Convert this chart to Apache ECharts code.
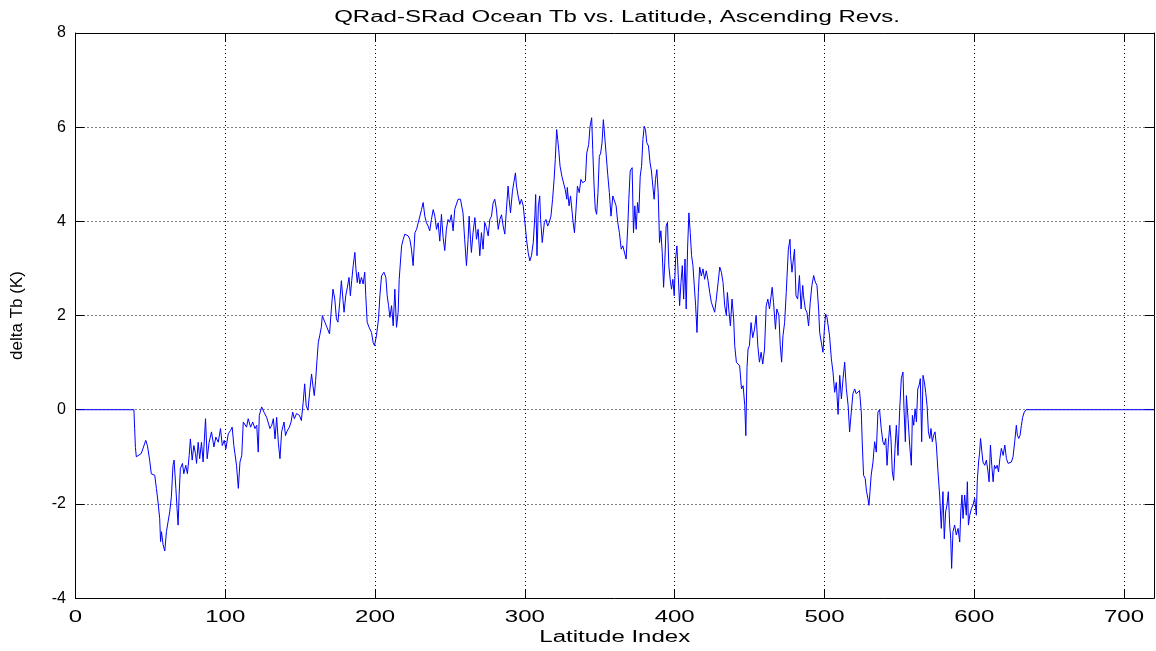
<!DOCTYPE html>
<html>
<head>
<meta charset="utf-8">
<script src="https://cdn.jsdelivr.net/npm/echarts@6/dist/echarts.min.js"></script>
<style>html,body{margin:0;padding:0;background:#fff}#chart{width:1156px;height:651px}</style>
</head>
<body>
<div id="chart"></div>
<script>
// Chart texts
const titleText = 'QRad-SRad Ocean Tb vs. Latitude, Ascending Revs.';
const xName = 'Latitude Index';
const yName = 'delta Tb (K)';
// Axis ranges / ticks
const xMin = 0, xMax = 720, xStep = 100;
const yMin = -4, yMax = 8, yStep = 2;

// [latitude index, delta Tb] samples
const flatStart = [[1,0],[39,0]];
const segA = [[39.5,-0.4],[40,-0.8],[40.6,-1.0],[41.7,-1.0],[43.9,-0.93],[46.9,-0.65],[48,-0.76],[49.5,-1.07],[50.6,-1.36],[52.9,-1.39],[54,-1.67],[55.1,-1.96],[56.2,-2.31],[56.8,-2.8],[57.4,-2.59],[58.5,-2.87],[59.6,-3.0],[60.7,-2.59],[61.8,-2.38],[62.9,-2.17],[64,-1.85],[65.1,-1.18],[65.8,-1.07],[67,-1.67],[67.8,-2.1],[68.5,-2.45],[69.2,-1.8],[70,-1.25],[71.4,-1.14],[72.3,-1.36],[73.6,-1.18],[74.7,-1.36],[75.9,-0.97],[76.7,-0.62],[77.9,-1.07],[79,-0.76],[80.1,-0.93],[80.8,-1.14],[81.9,-0.69],[82.9,-1.04],[84.1,-0.69],[85.2,-1.11],[86.8,-0.19],[87.9,-1.04],[89.2,-0.69],[90.8,-0.47],[92.4,-0.79],[93.7,-0.58],[95.3,-0.69],[96.8,-0.4],[98,-0.76],[99.3,-0.65],[100.4,-0.83],[102,-0.51],[103.5,-0.44],[104.6,-0.37],[105.7,-0.76],[107.5,-1.18],[108.7,-1.67],[109.8,-1.11],[111,-0.97],[112,-0.26],[113.1,-0.23],[114.2,-0.37],[115.3,-0.19],[116.9,-0.37],[118.3,-0.26],[119.8,-0.4],[121,-0.33],[122,-0.9],[122.7,-0.12],[124.3,0.06],[125.8,-0.05],[127.6,-0.16],[129.8,-0.4],[131,-0.33],[132.1,-0.19],[133.2,-0.62],[134.3,-0.16],[135.4,-0.69],[136.5,-1.04],[137.6,-0.47],[139.2,-0.26],[140.2,-0.55],[141,-0.47],[142.8,-0.37]];
const segB = [[143.9,-0.26],[145,-0.05],[146.1,-0.19],[147.6,-0.08],[149.5,-0.12],[150.8,-0.23],[152,0.16],[153,0.55],[154,0.09],[155.2,-0.01],[156.3,0.37],[157.6,0.76],[158.5,0.51],[159.4,0.3],[160.3,0.62],[161.2,1.04],[162.1,1.43],[163,1.57],[164.1,1.75],[164.8,2.0],[165.6,1.93],[167,1.82],[168.1,1.78],[169.6,1.61],[170.8,2.14],[171.9,2.56],[173.1,2.35],[174.2,1.93],[175.2,1.86],[176.4,2.28],[177.5,2.74],[178.6,2.32],[179.3,2.07],[180.4,2.42],[181.5,2.6],[182.6,2.81],[183.5,2.42],[184.4,2.74],[185.4,3.06],[186.5,3.34],[187.2,2.99],[188.1,2.7],[188.9,2.92],[189.8,2.67],[190.9,2.81],[192,2.67],[193.1,2.92],[193.8,2.42],[194.7,1.86],[196,1.75],[197.6,1.64],[198.7,1.43],[199.6,1.36],[200.9,1.57],[202.3,1.93],[203.2,2.42],[204.3,2.84],[205.9,2.92],[207.2,2.81],[208.1,2.42],[209,2.21],[209.9,1.96],[211,2.21],[212.1,1.78],[213.2,2.56],[214.3,1.75],[215.4,2.07],[216.1,2.77],[217.7,3.48],[218.8,3.62],[219.9,3.73],[221,3.76],[222.1,3.69],[223.2,3.62],[224.3,3.41],[225.4,3.06],[226.6,3.76],[227.7,3.83],[228.8,3.97],[229.9,4.0],[231,4.25],[232.1,4.4],[233.2,4.11],[234.3,3.97],[235.4,3.9],[236.5,3.8],[237.6,4.04],[238.8,4.25],[239.9,4.11],[241,3.83],[242.1,3.97],[243.2,3.58],[244.3,4.15],[245.4,3.66],[246.5,3.38],[247.6,3.83],[248.7,4.04]];
const segC = [[249.8,3.98],[250.9,4.14],[252.1,3.8],[253.2,4.26],[254.3,4.26],[255.4,4.47],[257,4.47],[257.6,4.5],[258.7,4.18],[259.8,3.62],[261,3.06],[262.1,3.62],[262.8,4.11],[263.7,3.62],[264.3,3.34],[265.4,3.76],[266.6,4.08],[267.7,3.62],[268.8,3.83],[269.9,3.27],[271,3.76],[272.1,3.41],[273.2,3.98],[274.3,3.87],[275.5,3.69],[276.6,4.04],[277.7,4.11],[278.8,4.39],[279.9,4.47],[281,4.26],[282.2,3.83],[283.3,4.04],[284.4,4.14],[285.5,3.9],[286.6,3.73],[287.7,4.26],[288.8,4.75],[289.5,4.47],[290.4,4.18],[291.7,4.64],[292.6,4.82],[293.7,5.03],[294.4,4.75],[295.5,4.54],[296.6,4.36],[297.7,4.47],[298.9,4.33],[300,3.98],[301.1,3.62],[302.2,3.34],[303.3,3.16],[304.4,3.27],[305.6,3.55],[306.7,4.14],[307.2,4.57],[308.1,3.27],[309,4.33],[309.9,4.54],[310.5,4.04],[311.6,3.55],[313,3.98],[314.1,4.04],[315.2,3.9],[316.3,3.98],[317.4,4.11],[318.5,4.47],[319.5,4.89],[320.3,5.31],[321.2,5.95],[321.9,5.74],[322.6,5.52],[323.5,5.17],[324.7,4.96],[325.8,4.93],[326.9,4.68],[328,4.47],[328.3,4.72],[329.5,4.33],[330.5,4.54],[331.6,4.18],[332.2,3.98],[333.1,3.76],[334,4.18],[335.1,4.75],[336.3,4.61]];
const segD = [[337.4,4.89],[338.6,4.82],[340.4,4.86],[341.3,5.45],[342.6,5.63],[343.5,6.02],[344.6,6.2],[345.3,5.53],[346.2,4.75],[347,4.26],[347.9,4.15],[348.8,4.61],[349.7,5.38],[350.6,5.45],[351.5,5.67],[352.4,6.16],[353.3,6.16],[354.2,5.45],[355.3,5.0],[356.4,4.61],[357.5,4.11],[358.7,4.54],[359.8,4.57],[360.9,4.33],[362,3.98],[363.1,3.76],[364.3,3.41],[365.4,3.48],[366.5,3.44],[367.6,3.2],[368.7,3.9],[369.4,4.47],[370.3,5.07],[371.6,5.14],[372.5,3.76],[373.4,4.33],[374.3,3.83],[375.2,4.4],[376.1,4.18],[377,4.96],[377.9,5.17],[378.8,5.74],[379.7,6.02],[380.5,5.95],[381.4,5.67],[382.5,5.6],[383.6,5.24],[384.5,5.07],[385.4,4.75],[386.3,4.47],[387.2,4.89],[388.1,5.1],[389,4.61],[389.9,3.55],[390.8,3.8],[391.7,3.34],[392.6,2.6],[393.4,3.13],[394.3,3.9],[395.2,3.98],[396.1,3.06],[397,2.77],[397.9,2.56],[398.8,2.77],[399.7,2.42],[400.6,3.2],[401.5,3.48],[402.4,2.84],[403.3,2.21],[404.2,2.7],[405.1,3.06],[406,2.35],[406.9,3.2],[407.7,2.14],[408.6,3.41],[409.5,4.18],[410.4,3.76],[411.3,3.27],[412.2,3.06],[413.1,2.63],[414,2.21],[414.9,1.64],[415.8,2.49],[416.7,3.03],[417.8,2.84],[418.9,2.99],[420,2.77],[421.1,2.95],[422.3,2.74],[423.4,2.49],[424.5,2.28],[425.6,2.31],[426.7,2.07],[427.8,2.35],[429,2.7],[430.1,3.03],[431.2,2.92],[432.3,2.7],[433.4,2.21],[434.5,2.0],[435.2,2.49],[436.1,2.14],[437.2,1.78],[438.3,2.35],[439.4,1.93],[440.1,1.36],[441.2,1.01],[442.3,1.04],[443.4,0.93],[444.6,0.44],[445.7,0.51],[446.8,0.09],[447.5,-0.55]];
const segE = [[448.3,0.9],[449,1.29],[449.9,1.36],[451,1.85],[452.1,1.53],[453.3,1.71],[454.4,2.0],[455.5,1.36],[456.6,1.01],[457.7,1.22],[458.8,0.97],[460,1.29],[461.1,2.21],[462.2,2.35],[463.3,2.14],[465.1,2.6],[466,2.28],[467.3,1.71],[468.2,2.14],[469.6,2.0],[470.5,1.36],[471.4,1.01],[472.3,1.57],[473.4,1.85],[474.5,2.49],[475.9,3.41],[477,3.62],[477.4,3.27],[478.3,2.92],[480,3.41],[481,2.42],[482.1,2.35],[483.3,2.85],[484.4,2.14],[485.5,2.64],[486,2.42],[487.2,2.14],[488.3,2.07],[489.4,1.78],[490.5,2.28],[491.6,2.64],[492.8,2.85],[493.9,2.71],[495,2.64],[496.1,2.14],[496.8,1.64],[497.9,1.68],[499,1.22],[500.1,1.78],[500.8,2.03],[501.7,1.96],[502.5,2.0],[503.4,1.57],[504.6,1.08],[505.7,0.8],[506.8,0.37],[507.9,0.58],[509.1,-0.1],[510.2,0.73],[511.3,0.23],[512.4,0.66],[513.5,1.01],[514.6,0.45],[515.8,0.09],[516.8,-0.47],[517.9,-0.05],[519,0.34],[520.2,0.44],[521.2,0.34],[522.4,0.37],[523.4,0.41],[524.6,-0.05],[525.2,-0.68],[526.1,-1.39],[527.2,-1.46],[528.1,-1.74],[529,-1.88],[529.7,-2.03],[530.4,-1.74],[531.2,-1.39],[532.4,-1.11],[533.5,-0.68],[534.6,-0.9],[535.7,-0.05],[536.8,0],[537.9,-0.4],[539,-0.68]];
const segF = [[540,-0.75],[540.9,-0.61],[541.8,-1.18],[542.7,-0.68],[543.6,-0.33],[544.4,-0.61],[545.3,-1.32],[546.2,-1.5],[547.1,-0.82],[548,-0.33],[549.1,-0.97],[550.2,-0.01],[551.3,0.66],[552.4,0.8],[553.1,0.02],[554,-0.68],[554.7,0.3],[555.8,-0.19],[556.9,-0.75],[558,-1.18],[558.7,-0.12],[559.6,-0.33],[560.5,0.02],[561.4,-0.26],[562.3,0.44],[563.2,0.52],[564,0.66],[564.9,-0.68],[565.8,0.73],[566.7,0.59],[567.6,0.37],[568.5,0.09],[569.4,-0.47],[570.3,-0.61],[571.1,-0.4],[572,-0.68],[572.9,-0.54],[573.8,-0.47],[574.7,-0.75],[575.8,-1.32],[576.9,-1.81],[578,-2.52],[578.7,-2.02],[579.1,-1.74],[580,-2.74],[580.9,-2.17],[581.8,-2.02],[582.7,-1.74],[583.6,-2.45],[584.3,-2.74],[584.9,-3.37],[585.8,-2.59],[586.9,-2.45],[588,-2.66],[589.2,-2.52],[590.3,-2.81],[591,-2.17],[591.8,-1.81],[592.5,-2.31],[593.6,-1.81],[594.7,-2.24],[595.4,-1.53],[596.1,-2.45],[597,-2.24],[598.1,-2.1],[599.2,-2.02],[600.3,-1.88],[601.4,-2.24],[602,-1.53],[602.9,-1.11],[603.6,-0.9],[604.2,-0.61],[604.9,-0.61],[605.8,-1.11],[607,-1.18],[608.1,-1.07],[609.2,-1.32],[609.9,-1.53],[610.8,-0.75],[611.7,-1.18],[612.6,-1.53],[613.5,-1.18],[614.4,-1.25],[615.3,-1.18],[616.2,-1.32],[617.1,-1.04],[618.1,-0.82],[619.3,-0.97],[620.4,-0.75],[621.5,-1.04],[622.6,-1.14],[623.7,-1.11],[624.8,-1.11],[625.9,-1.0],[627,-0.68],[628.1,-0.33],[628.8,-0.54],[629.7,-0.61],[630.6,-0.54],[631.5,-0.33],[632.3,-0.16],[633.4,-0.05]];
const flatEnd = [[634.6,0],[720,0]];

const lineData = [].concat(flatStart, segA, segB, segC, segD, segE, segF, flatEnd);

const font = 'Liberation Sans, Arial, Helvetica, sans-serif';
const chart = echarts.init(document.getElementById('chart'), null, {renderer: 'canvas'});
const tickStyle = {color: '#000', width: 1};
chart.setOption({
  animation: false,
  backgroundColor: '#fff',
  title: {
    text: titleText, left: 612, top: 5, textAlign: 'center',
    textStyle: {fontFamily: font, fontSize: 16, fontWeight: 'normal', color: '#000'}
  },
  grid: {left: 75.5, right: 2, top: 33, bottom: 51, show: false},
  xAxis: [{
    type: 'value', min: xMin, max: xMax, interval: xStep, position: 'bottom',
    axisLine: {show: true, onZero: false, lineStyle: tickStyle},
    axisTick: {show: true, inside: true, length: 9, lineStyle: tickStyle},
    axisLabel: {fontFamily: font, fontSize: 16, color: '#000', margin: 11, showMaxLabel: false},
    splitLine: {show: true, lineStyle: {color: '#000', type: [1, 3], width: 1}},
    name: xName, nameLocation: 'middle', nameGap: 24,
    nameTextStyle: {fontFamily: font, fontSize: 16, color: '#000'}
  }, {
    type: 'value', min: xMin, max: xMax, interval: xStep, position: 'top',
    axisLine: {show: true, onZero: false, lineStyle: tickStyle},
    axisTick: {show: true, inside: true, length: 9, lineStyle: tickStyle},
    axisLabel: {show: false}, splitLine: {show: false}
  }],
  yAxis: [{
    type: 'value', min: yMin, max: yMax, interval: yStep, position: 'left',
    axisLine: {show: true, onZero: false, lineStyle: tickStyle},
    axisTick: {show: true, inside: true, length: 9, lineStyle: tickStyle},
    axisLabel: {fontFamily: font, fontSize: 16, color: '#000', margin: 9.5},
    splitLine: {show: true, lineStyle: {color: '#000', type: [1, 3], width: 1}},
    name: yName, nameLocation: 'middle', nameGap: 50, nameRotate: 90,
    nameTextStyle: {fontFamily: font, fontSize: 17, color: '#000'}
  }, {
    type: 'value', min: yMin, max: yMax, interval: yStep, position: 'right',
    axisLine: {show: true, onZero: false, lineStyle: tickStyle},
    axisTick: {show: true, inside: true, length: 9, lineStyle: tickStyle},
    axisLabel: {show: false}, splitLine: {show: false}
  }],
  series: [{
    type: 'line', xAxisIndex: 0, yAxisIndex: 0, data: lineData,
    showSymbol: false, symbol: 'none', smooth: false,
    lineStyle: {color: '#0000ff', width: 1}, z: 3
  }]
});

// The reference figure was stretched horizontally; widen the horizontal texts to match.
(function stretchTexts() {
  const zr = chart.getZr();
  function walk(el) {
    if (el.type === 'text' && !el.rotation) {
      el.scaleX = 1.5;
      el.markRedraw();
    }
    if (el.isGroup) el.eachChild(walk);
  }
  zr.storage.getRoots().forEach(walk);
  zr.refreshImmediately();
})();
</script>
</body>
</html>
